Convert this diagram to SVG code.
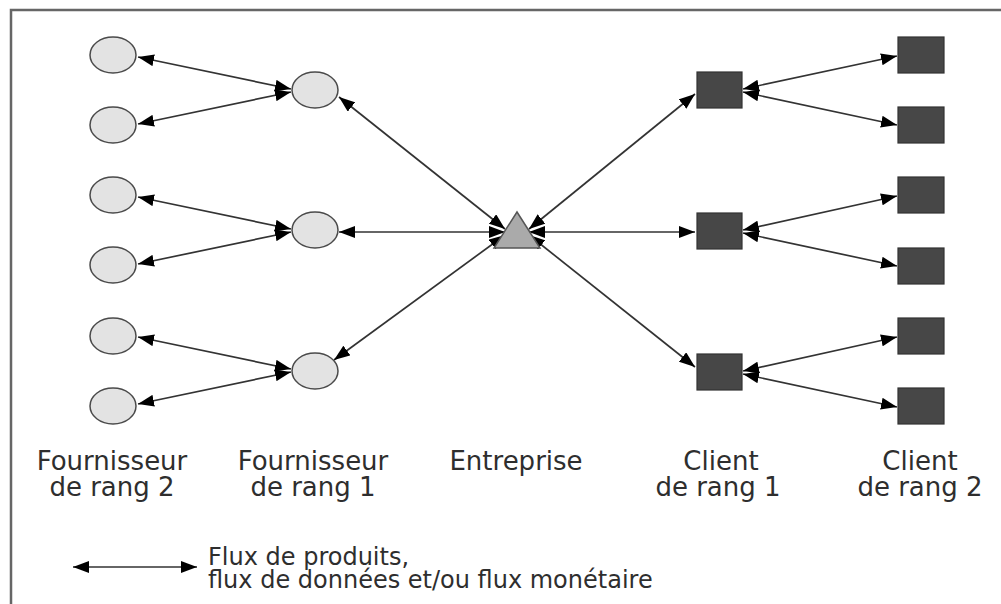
<svg xmlns="http://www.w3.org/2000/svg" width="1001" height="604" viewBox="0 0 1001 604">
<style>
.c{fill:#e3e3e3;stroke:#4a4a4a;stroke-width:1.5}
.s{fill:#474747;stroke:#333;stroke-width:1.2}
.t{fill:#aaaaaa;stroke:#555;stroke-width:1.5}
.e{stroke:#333;stroke-width:1.7;fill:none;marker-start:url(#a);marker-end:url(#a)}
.l{font-family:"DejaVu Sans","Liberation Sans",sans-serif;font-size:26px;fill:#2e2e2e;text-anchor:middle}
.g{font-family:"DejaVu Sans","Liberation Sans",sans-serif;font-size:24px;fill:#2e2e2e}
</style>
<defs>
<marker id="a" viewBox="0 0 16 12" refX="16" refY="6" markerWidth="16" markerHeight="12" markerUnits="userSpaceOnUse" orient="auto-start-reverse">
<path d="M0,0 L16,6 L0,12 z" fill="#000"/>
</marker>
</defs>
<rect width="1001" height="604" fill="#fff"/>
<path d="M11,604 V10 H1001" fill="none" stroke="#666" stroke-width="2.5"/>
<g id="connectors">
<line class="e" x1="291" y1="89" x2="138" y2="57"/>
<line class="e" x1="291" y1="92" x2="138" y2="124"/>
<line class="e" x1="291" y1="229" x2="138" y2="197"/>
<line class="e" x1="291" y1="232" x2="138" y2="264"/>
<line class="e" x1="291" y1="369" x2="138" y2="337"/>
<line class="e" x1="291" y1="372" x2="138" y2="404"/>
<line class="e" x1="505" y1="229" x2="339" y2="97"/>
<line class="e" x1="505" y1="232" x2="339" y2="232"/>
<line class="e" x1="505" y1="235" x2="334" y2="360"/>
<line class="e" x1="529" y1="229" x2="695" y2="94"/>
<line class="e" x1="529" y1="232" x2="695" y2="232"/>
<line class="e" x1="529" y1="235" x2="695" y2="367"/>
<line class="e" x1="743" y1="89" x2="897" y2="56"/>
<line class="e" x1="743" y1="92" x2="897" y2="125"/>
<line class="e" x1="743" y1="230" x2="897" y2="196"/>
<line class="e" x1="743" y1="233" x2="897" y2="266"/>
<line class="e" x1="743" y1="371" x2="897" y2="337"/>
<line class="e" x1="743" y1="374" x2="897" y2="407"/>
</g>
<g id="f2-1"><ellipse class="c" cx="113" cy="55" rx="23" ry="18"/></g>
<g id="f2-2"><ellipse class="c" cx="113" cy="125" rx="23" ry="18"/></g>
<g id="f2-3"><ellipse class="c" cx="113" cy="195" rx="23" ry="18"/></g>
<g id="f2-4"><ellipse class="c" cx="113" cy="265" rx="23" ry="18"/></g>
<g id="f2-5"><ellipse class="c" cx="113" cy="336" rx="23" ry="18"/></g>
<g id="f2-6"><ellipse class="c" cx="113" cy="406" rx="23" ry="18"/></g>
<g id="f1-1"><ellipse class="c" cx="315" cy="90" rx="23" ry="18"/></g>
<g id="f1-2"><ellipse class="c" cx="315" cy="230" rx="23" ry="18"/></g>
<g id="f1-3"><ellipse class="c" cx="315" cy="371" rx="23" ry="18"/></g>
<g id="entreprise"><polygon class="t" points="517,212 540,248 494,248"/></g>
<g id="c1-1"><rect class="s" x="697" y="72" width="45" height="36"/></g>
<g id="c1-2"><rect class="s" x="697" y="213" width="45" height="36"/></g>
<g id="c1-3"><rect class="s" x="697" y="354" width="45" height="36"/></g>
<g id="c2-1"><rect class="s" x="898" y="37" width="46" height="36"/></g>
<g id="c2-2"><rect class="s" x="898" y="107" width="46" height="36"/></g>
<g id="c2-3"><rect class="s" x="898" y="177" width="46" height="36"/></g>
<g id="c2-4"><rect class="s" x="898" y="248" width="46" height="36"/></g>
<g id="c2-5"><rect class="s" x="898" y="318" width="46" height="36"/></g>
<g id="c2-6"><rect class="s" x="898" y="388" width="46" height="36"/></g>
<g id="labels">
<text class="l" x="112" y="470">Fournisseur</text>
<text class="l" x="112" y="496">de rang 2</text>
<text class="l" x="313" y="470">Fournisseur</text>
<text class="l" x="313" y="496">de rang 1</text>
<text class="l" x="516" y="470">Entreprise</text>
<text class="l" x="721" y="470">Client</text>
<text class="l" x="718" y="496">de rang 1</text>
<text class="l" x="920" y="470">Client</text>
<text class="l" x="920" y="496">de rang 2</text>
</g>
<g id="legend">
<line class="e" x1="73" y1="567" x2="197" y2="567"/>
<text class="g" x="208" y="565">Flux de produits,</text>
<text class="g" x="208" y="588">flux de données et/ou flux monétaire</text>
</g>
</svg>
